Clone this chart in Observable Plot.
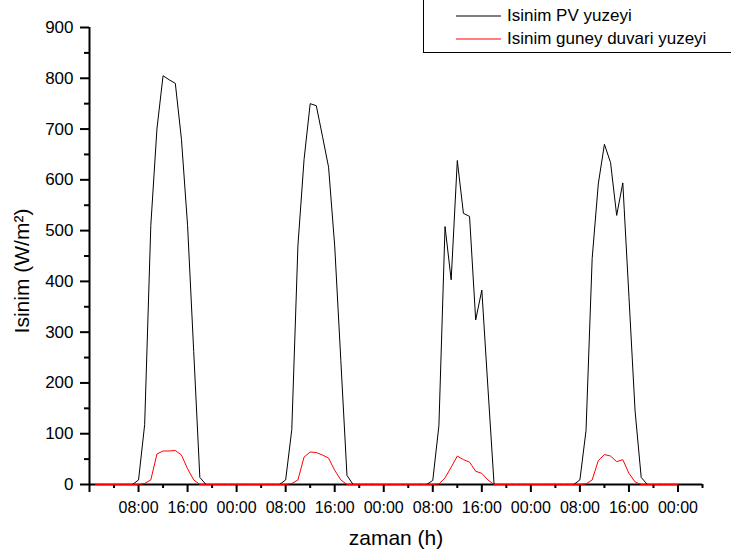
<!DOCTYPE html>
<html>
<head>
<meta charset="utf-8">
<script src="https://cdn.jsdelivr.net/npm/d3@7"></script>
<script src="https://cdn.jsdelivr.net/npm/@observablehq/plot@0.6"></script>
<style>
  html, body { margin: 0; padding: 0; background: white; }
  #wrap { position: relative; width: 731px; height: 556px; overflow: hidden; font-family: "Liberation Sans", Arial, sans-serif; }
  #legend { position: absolute; left: 423px; top: -1px; width: 330px; height: 54px; border: 1px solid black; background: white; box-sizing: border-box; }
  .item { position: absolute; left: 32px; height: 20px; display: flex; align-items: center; font-size: 17px; color: black; white-space: nowrap; }
  .swatch { display: block; margin-right: 6px; }
</style>
</head>
<body>
<div id="wrap"></div>
<script>
// Hours since start of record
const hours = [1,2,3,4,5,6,7,8,9,10,11,12,13,14,15,16,17,18,19,20,21,22,23,24,
  25,26,27,28,29,30,31,32,33,34,35,36,37,38,39,40,41,42,43,44,45,46,47,48,
  49,50,51,52,53,54,55,56,57,58,59,60,61,62,63,64,65,66,67,68,69,70,71,72,
  73,74,75,76,77,78,79,80,81,82,83,84,85,86,87,88,89,90,91,92,93,94,95,96];

// Isinim PV yuzeyi (W/m2)
const pvValues = [0,0,0,0,0,0,0,9,118,510,700,805,797,790,680,510,262,14,0,0,0,0,0,0,
  0,0,0,0,0,0,0,9,108,470,640,750,746,686,625,470,244,18,0,0,0,0,0,0,
  0,0,0,0,0,0,0,8,116,508,403,638,534,528,324,383,190,0,0,0,0,0,0,0,
  0,0,0,0,0,0,0,9,106,445,592,670,634,530,594,370,145,14,0,0,0,0,0,0];

// Isinim guney duvari yuzeyi (W/m2)
const wallValues = [0,0,0,0,0,0,0,0,2,9,60,66,66,67,58,31,9,0,0,0,0,0,0,0,
  0,0,0,0,0,0,0,0,2,9,54,64,63,58,52,28,9,0,0,0,0,0,0,0,
  0,0,0,0,0,0,0,0,1,13,34,56,49,44,26,22,9,0,0,0,0,0,0,0,
  0,0,0,0,0,0,0,0,1,9,47,59,56,45,49,22,5,0,0,0,0,0,0,0];

const seriesNames = ["Isinim PV yuzeyi", "Isinim guney duvari yuzeyi"];
const seriesColors = ["#000000", "#ff0000"];

const xMajor = [0,8,16,24,32,40,48,56,64,72,80,88,96];
const xMinor = [4,12,20,28,36,44,52,60,68,76,84,92,100];
const xTickLabels = ["", "08:00","16:00","00:00","08:00","16:00","00:00","08:00","16:00","00:00","08:00","16:00","00:00"];
const yMajor = [0,100,200,300,400,500,600,700,800,900];
const yMinor = [50,150,250,350,450,550,650,750,850];
const xTitle = "zaman (h)";
const yTitle = "Isinim (W/m²)";

const pvData = hours.map((h, i) => ({h, v: pvValues[i]}));
const wallData = hours.map((h, i) => ({h, v: wallValues[i]}));

const chart = Plot.plot({
  width: 731,
  height: 556,
  marginLeft: 89,
  marginRight: 29,
  marginTop: 27,
  marginBottom: 72,
  style: {fontFamily: "'Liberation Sans', Arial, sans-serif", color: "black", background: "white"},
  x: {domain: [0, 100]},
  y: {domain: [0, 900]},
  marks: [
    Plot.axisY({ticks: yMajor, tickSize: 9, tickPadding: 7, strokeWidth: 2, label: null, fontSize: 17, tickFormat: d => String(d)}),
    Plot.axisY({ticks: yMinor, tickSize: 5, strokeWidth: 2, label: null, tickFormat: () => ""}),
    Plot.axisX({ticks: xMajor, tickSize: 8, tickPadding: 9, strokeWidth: 2, label: null, fontSize: 16,
      tickFormat: d => xTickLabels[xMajor.indexOf(d)]}),
    Plot.axisX({ticks: xMinor, tickSize: 4, strokeWidth: 2, label: null, tickFormat: () => ""}),
    Plot.ruleX([0], {stroke: "black", strokeWidth: 2}),
    Plot.ruleY([0], {stroke: "black", strokeWidth: 2}),
    Plot.line(pvData, {x: "h", y: "v", stroke: seriesColors[0], strokeWidth: 1}),
    Plot.line(wallData, {x: "h", y: "v", stroke: seriesColors[1], strokeWidth: 1}),
    Plot.text([xTitle], {frameAnchor: "bottom", dy: 54, text: d => d, fontSize: 21, textAnchor: "middle", lineAnchor: "middle"}),
    Plot.text([yTitle], {frameAnchor: "left", dx: -67, dy: 15, rotate: -90, text: d => d, fontSize: 21, textAnchor: "middle", lineAnchor: "middle"})
  ]
});

const wrap = document.getElementById("wrap");
wrap.appendChild(chart);

const svgNS = "http://www.w3.org/2000/svg";
const legend = document.createElement("div");
legend.id = "legend";
seriesNames.forEach((name, i) => {
  const item = document.createElement("div");
  item.className = "item";
  item.style.top = (i === 0 ? 6 : 29) + "px";
  const sw = document.createElementNS(svgNS, "svg");
  sw.setAttribute("class", "swatch");
  sw.setAttribute("width", "45");
  sw.setAttribute("height", "6");
  const ln = document.createElementNS(svgNS, "line");
  ln.setAttribute("x1", "0");
  ln.setAttribute("x2", "45");
  ln.setAttribute("y1", "3");
  ln.setAttribute("y2", "3");
  ln.setAttribute("stroke", seriesColors[i]);
  ln.setAttribute("stroke-width", "1.2");
  sw.appendChild(ln);
  item.appendChild(sw);
  const t = document.createElement("span");
  t.textContent = name;
  item.appendChild(t);
  legend.appendChild(item);
});
wrap.appendChild(legend);
</script>
</body>
</html>
